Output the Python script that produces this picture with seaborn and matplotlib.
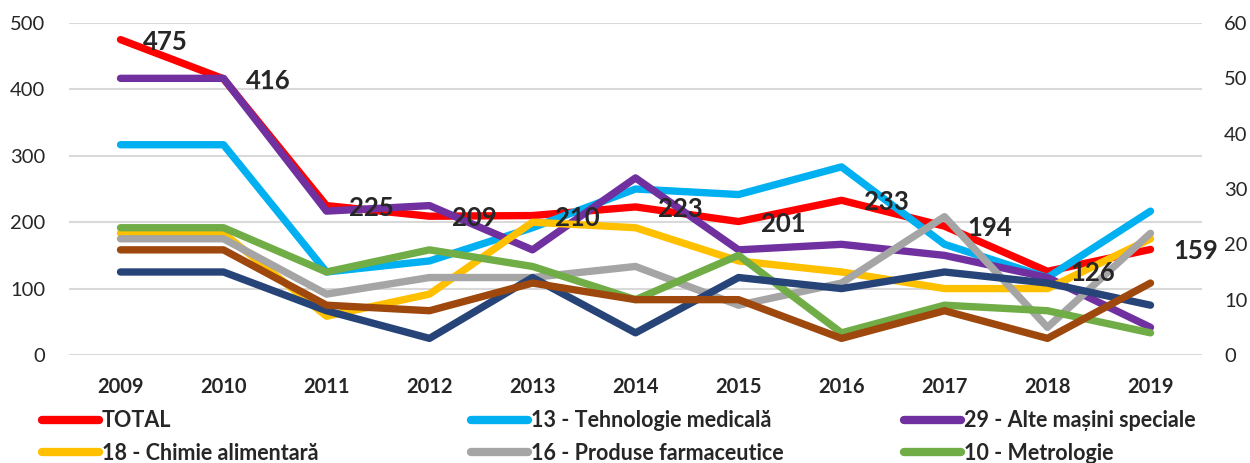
import matplotlib
matplotlib.use("Agg")
import matplotlib.pyplot as plt
import seaborn as sns
from matplotlib.lines import Line2D

# years on the x axis
years = [2009, 2010, 2011, 2012, 2013, 2014, 2015, 2016, 2017, 2018, 2019]

# total (left axis)
total = [475, 416, 225, 209, 210, 223, 201, 233, 194, 126, 159]

# domains (right axis)
tehnologie_medicala = [38, 38, 15, 17, 23, 30, 29, 34, 20, 14, 26]
alte_masini = [50, 50, 26, 27, 19, 32, 19, 20, 18, 14, 5]
chimie_alimentara = [22, 22, 7, 11, 24, 23, 17, 15, 12, 12, 21]
produse_farma = [21, 21, 11, 14, 14, 16, 9, 13, 25, 5, 22]
metrologie = [23, 23, 15, 19, 16, 10, 18, 4, 9, 8, 4]
domeniu_bleumarin = [15, 15, 8, 3, 14, 4, 14, 12, 15, 13, 9]
domeniu_maro = [19, 19, 9, 8, 13, 10, 10, 3, 8, 3, 13]

labels = ["TOTAL", "13 - Tehnologie medicală", "29 - Alte mașini speciale",
          "18 - Chimie alimentară", "16 - Produse farmaceutice", "10 - Metrologie"]

sns.set_style("white")
plt.rcParams['font.family'] = ['Lato', 'DejaVu Sans']

fig = plt.figure(figsize=(12.5, 4.63), dpi=100)
ax = fig.add_axes([0.0552, 0.2333, 0.9064, 0.717])
ax2 = ax.twinx()

lw = 5.3
line_kw = dict(lw=lw, solid_capstyle="round", solid_joinstyle="round")
sns.lineplot(x=years, y=total, ax=ax, color="#FF0000", **line_kw)

secondary = [
    (tehnologie_medicala, "#00B0F0"),
    (alte_masini, "#7030A0"),
    (chimie_alimentara, "#FFC000"),
    (produse_farma, "#A5A5A5"),
    (metrologie, "#70AD47"),
    (domeniu_bleumarin, "#264478"),
    (domeniu_maro, "#9E480E"),
]
for vals, col in secondary:
    sns.lineplot(x=years, y=vals, ax=ax2, color=col, **line_kw)

# data labels for TOTAL, placed on the right of each point
for yr, v in zip(years, total):
    ax2.annotate(str(v), xy=(yr, v * 60 / 500), xytext=(16.5, -1.5), textcoords="offset points",
                 ha="left", va="center", fontsize=18.5, fontweight="bold", zorder=10)

ax.set_xlim(2008.5, 2019.5)
ax.set_ylim(0, 500)
ax2.set_ylim(0, 60)
ax.set_yticks(range(0, 501, 100))
ax2.set_yticks(range(0, 61, 10))
ax.set_xticks(years)
ax.set_xticklabels([str(y) for y in years], fontsize=14.5, fontweight="bold")
ax.tick_params(axis="x", length=0, pad=16)
ax.tick_params(axis="y", length=0, labelsize=14.5, pad=17)
ax2.tick_params(axis="y", length=0, labelsize=14.5, pad=16)
ax.grid(axis="y", color="#D9D9D9", lw=1.5)
ax.set_axisbelow(True)
for a in (ax, ax2):
    for s in a.spines.values():
        s.set_visible(False)

# legend in three columns
colors = ["#FF0000", "#00B0F0", "#7030A0", "#FFC000", "#A5A5A5", "#70AD47"]
legend_font = dict(weight="bold", size=15.5)
col_x = [0.0336, 0.3768, 0.7232]
for c in range(3):
    idx = [c, c + 3]
    handles = [Line2D([], [], color=colors[i], lw=6, solid_capstyle="round") for i in idx]
    fig.legend(handles, [labels[i] for i in idx], loc="center left",
               bbox_to_anchor=(col_x[c], 0.0562), frameon=False, prop=legend_font,
               handlelength=2.65, handletextpad=0.14, labelspacing=0.55,
               borderaxespad=0, borderpad=0)

fig.savefig("out.png", dpi=100)
